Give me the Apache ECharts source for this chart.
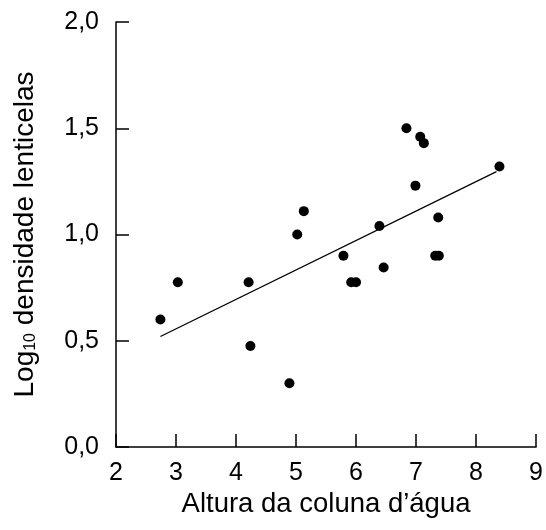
<!DOCTYPE html>
<html><head><meta charset="utf-8">
<script src="https://cdn.jsdelivr.net/npm/echarts@6/dist/echarts.min.js"></script>
<style>html,body{margin:0;padding:0;background:#fff}#c{width:546px;height:530px}</style>
</head><body><div id="c"></div>
<script>
const xValues = [2.74, 3.03, 4.21, 4.24, 4.89, 5.02, 5.13, 5.79, 5.92, 6.00, 6.39, 6.46, 6.84, 6.99, 7.07, 7.13, 7.32, 7.37, 7.38, 8.39];
const yValues = [0.60, 0.775, 0.775, 0.475, 0.30, 1.00, 1.11, 0.90, 0.775, 0.775, 1.04, 0.845, 1.50, 1.23, 1.46, 1.43, 0.90, 1.08, 0.90, 1.32];
const fitX = [2.74, 8.34];
const fitY = [0.52, 1.296];
const xTicks = [2, 3, 4, 5, 6, 7, 8, 9];
const yTicks = [0, 0.5, 1.0, 1.5, 2.0];

const pts = xValues.map((x, i) => [x, yValues[i]]);
const line = fitX.map((x, i) => [x, fitY[i]]);
const font = 'Liberation Sans, Arial, sans-serif';

const chart = echarts.init(document.getElementById('c'), null, {renderer: 'canvas'});
chart.setOption({
  animation: false,
  backgroundColor: '#fff',
  grid: {left: 116, right: 6, top: 22, bottom: 83},
  xAxis: {
    type: 'value', min: xTicks[0], max: xTicks[xTicks.length - 1], interval: 1,
    splitLine: {show: false},
    axisLine: {show: true, lineStyle: {color: '#000', width: 1.5}},
    axisTick: {show: true, inside: true, length: 13, lineStyle: {color: '#000', width: 1.5}},
    axisLabel: {color: '#000', fontSize: 25, fontFamily: font, margin: 14, showMaxLabel: true, showMinLabel: true},
    name: 'Altura da coluna d\u2019\u00e1gua', nameLocation: 'middle', nameGap: 40,
    nameTextStyle: {color: '#000', fontSize: 27.5, fontFamily: font}
  },
  yAxis: {
    type: 'value', min: yTicks[0], max: yTicks[yTicks.length - 1], interval: 0.5,
    splitLine: {show: false},
    axisLine: {show: true, lineStyle: {color: '#000', width: 1.5}},
    axisTick: {show: true, inside: true, length: 13, lineStyle: {color: '#000', width: 1.5}},
    axisLabel: {color: '#000', fontSize: 25, fontFamily: font, margin: 17,
      formatter: v => v.toFixed(1).replace('.', ',')},
    name: '{a|Log}{s|10}{a| densidade lenticelas}', nameLocation: 'middle', nameGap: 77, nameRotate: 90,
    nameTextStyle: {color: '#000', fontSize: 28, fontFamily: font,
      rich: {
        a: {color: '#000', fontSize: 28, fontFamily: font},
        s: {color: '#000', fontSize: 16, fontFamily: font, verticalAlign: 'bottom', padding: [11, 0, 0, 0]}
      }}
  },
  series: [
    {type: 'scatter', data: pts, symbol: 'circle', symbolSize: 10, itemStyle: {color: '#000', opacity: 1}},
    {type: 'line', data: line, symbol: 'none', lineStyle: {color: '#000', width: 1.3}, silent: true}
  ]
});
</script></body></html>
